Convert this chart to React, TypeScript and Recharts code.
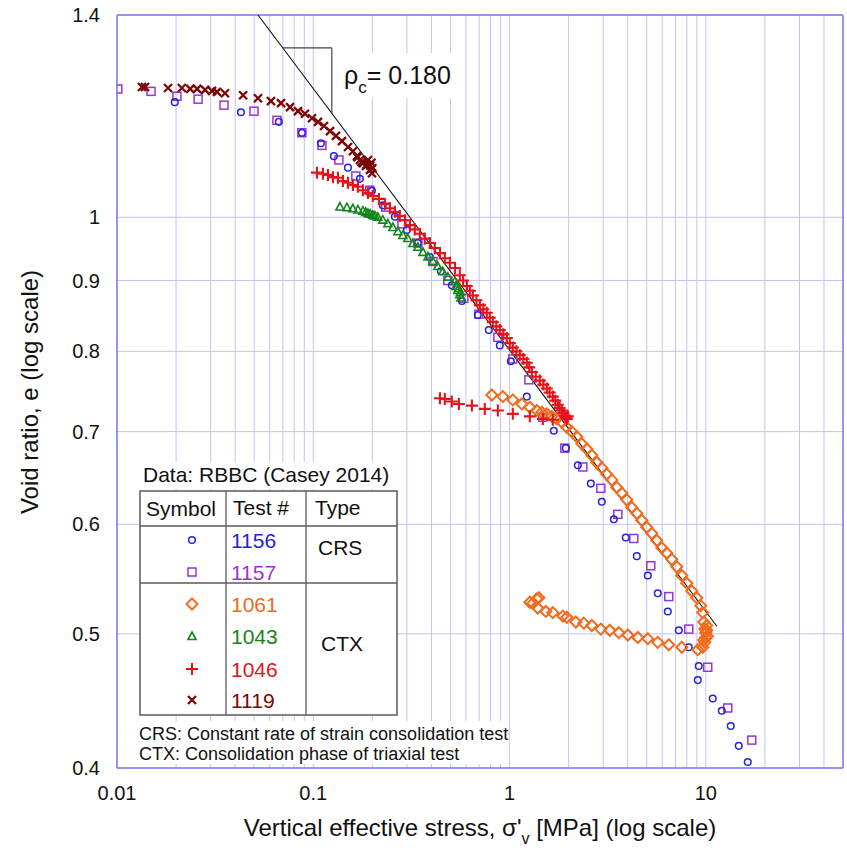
import {
  ScatterChart,
  Scatter,
  XAxis,
  YAxis,
  CartesianGrid,
  ReferenceLine,
} from "recharts";

// axis ticks
const xGridTicks = [
  0.01, 0.02, 0.03, 0.04, 0.05, 0.06, 0.07, 0.08, 0.09,
  0.1, 0.2, 0.3, 0.4, 0.5, 0.6, 0.7, 0.8, 0.9,
  1, 2, 3, 4, 5, 6, 7, 8, 9,
  10, 20, 30, 40, 50,
];
const xLabelTicks = [0.01, 0.1, 1, 10];
const xLabelText = ["0.01", "0.1", "1", "10"];
const yTicks = [0.4, 0.5, 0.6, 0.7, 0.8, 0.9, 1, 1.4];

// CRS 1156
const crs1156X = [0.0197, 0.0428, 0.0668, 0.0875, 0.1094, 0.1274, 0.1502, 0.1728, 0.199, 0.226, 0.2605, 0.3, 0.341, 0.393, 0.447, 0.508, 0.572, 0.689, 0.784, 0.892, 1.015, 1.225, 1.681, 1.935, 2.228, 2.595, 2.952, 3.398, 3.911, 4.45, 5.062, 5.692, 6.401, 7.282, 8.187, 9.206, 9.099, 10.85, 12.06, 13.4, 14.72, 16.36];
const crs1156E = [1.211, 1.191, 1.172, 1.151, 1.131, 1.107, 1.086, 1.066, 1.045, 1.02, 1.001, 0.979, 0.958, 0.936, 0.914, 0.893, 0.87, 0.85, 0.829, 0.808, 0.787, 0.742, 0.701, 0.681, 0.662, 0.642, 0.623, 0.605, 0.587, 0.569, 0.551, 0.535, 0.519, 0.503, 0.489, 0.474, 0.463, 0.449, 0.44, 0.429, 0.415, 0.404];

// CRS 1157
const crs1157X = [0.0101, 0.0149, 0.0202, 0.0259, 0.0351, 0.0499, 0.0653, 0.0875, 0.1107, 0.1351, 0.1648, 0.194, 0.234, 0.283, 0.341, 0.407, 0.485, 0.585, 0.698, 0.872, 1.039, 1.254, 1.478, 1.913, 2.363, 2.918, 3.562, 4.296, 5.243, 6.476, 8.187, 10.23, 12.94, 17.15];
const crs1157E = [1.238, 1.233, 1.223, 1.217, 1.205, 1.193, 1.175, 1.151, 1.127, 1.1, 1.071, 1.046, 1.017, 0.989, 0.958, 0.929, 0.9, 0.874, 0.851, 0.819, 0.79, 0.763, 0.717, 0.681, 0.66, 0.637, 0.61, 0.586, 0.56, 0.532, 0.504, 0.473, 0.442, 0.419];

// CTX 1061 (loading, then unloading)
const ctx1061LoadX = [0.8125, 0.924, 1.039, 1.155, 1.269, 1.377, 1.461, 1.549, 1.642, 1.741, 1.847, 1.958, 2.077, 2.202, 2.335, 2.476, 2.626, 2.784, 2.952, 3.13, 3.32, 3.52, 3.732, 3.957, 4.197, 4.45, 4.718, 5.003, 5.306, 5.626, 5.966, 6.326, 6.708, 7.113, 7.543, 7.998, 8.481, 8.993, 9.425, 9.649, 9.763, 9.878, 9.994, 9.994, 9.878, 9.649, 9.099, 10.1, 10.2, 9.76, 10.1];
const ctx1061LoadE = [0.744, 0.742, 0.738, 0.733, 0.729, 0.725, 0.723, 0.721, 0.718, 0.715, 0.711, 0.705, 0.7, 0.694, 0.686, 0.68, 0.673, 0.665, 0.659, 0.652, 0.646, 0.638, 0.632, 0.625, 0.617, 0.611, 0.604, 0.597, 0.591, 0.584, 0.577, 0.572, 0.566, 0.559, 0.551, 0.544, 0.537, 0.531, 0.524, 0.518, 0.51, 0.504, 0.501, 0.497, 0.493, 0.489, 0.487, 0.503, 0.498, 0.495, 0.507];
const ctx1061UnloadX = [7.543, 6.476, 5.692, 5.062, 4.503, 4.004, 3.603, 3.242, 2.918, 2.626, 2.39, 2.176, 1.958, 1.868, 1.661, 1.531, 1.393, 1.314, 1.269, 1.377, 1.41];
const ctx1061UnloadE = [0.489, 0.491, 0.493, 0.496, 0.497, 0.499, 0.501, 0.503, 0.504, 0.507, 0.509, 0.51, 0.514, 0.515, 0.518, 0.519, 0.522, 0.526, 0.527, 0.53, 0.531];

// CTX 1043
const ctx1043X = [0.1367, 0.1484, 0.1592, 0.1688, 0.179, 0.185, 0.19, 0.195, 0.201, 0.206, 0.213, 0.226, 0.24, 0.2545, 0.27, 0.286, 0.303, 0.322, 0.341, 0.362, 0.384, 0.407, 0.431, 0.457, 0.485, 0.527, 0.533, 0.545, 0.558, 0.565, 0.55, 0.562];
const ctx1043E = [1.018, 1.017, 1.015, 1.013, 1.011, 1.009, 1.007, 1.006, 1.004, 1.003, 1.001, 0.996, 0.99, 0.984, 0.977, 0.971, 0.966, 0.958, 0.952, 0.944, 0.937, 0.93, 0.922, 0.914, 0.906, 0.899, 0.892, 0.886, 0.88, 0.875, 0.889, 0.883];

// CTX 1046 (loading, then reload branch)
const ctx1046X = [0.1044, 0.112, 0.1188, 0.126, 0.1336, 0.1416, 0.1502, 0.1592, 0.1688, 0.179, 0.19, 0.201, 0.216, 0.232, 0.246, 0.2605, 0.276, 0.293, 0.311, 0.329, 0.349, 0.37, 0.393, 0.416, 0.442, 0.468, 0.4965, 0.527, 0.558, 0.58, 0.606, 0.628, 0.65, 0.678, 0.706, 0.735, 0.766, 0.793, 0.822, 0.856, 0.892, 0.93, 0.969, 1.003, 1.039, 1.083, 1.128, 1.176, 1.225, 1.26, 1.299, 1.36, 1.426, 1.487, 1.549, 1.6, 1.661, 1.71, 1.762, 1.8, 1.847, 1.88, 1.913, 1.958, 1.93, 1.98];
const ctx1046E = [1.077, 1.075, 1.073, 1.069, 1.068, 1.062, 1.059, 1.055, 1.052, 1.046, 1.041, 1.036, 1.031, 1.022, 1.015, 1.009, 1.002, 0.995, 0.987, 0.98, 0.973, 0.965, 0.958, 0.95, 0.942, 0.934, 0.927, 0.919, 0.908, 0.9, 0.892, 0.885, 0.878, 0.871, 0.864, 0.858, 0.853, 0.846, 0.84, 0.834, 0.829, 0.823, 0.818, 0.811, 0.805, 0.8, 0.795, 0.79, 0.785, 0.779, 0.773, 0.767, 0.762, 0.757, 0.752, 0.747, 0.742, 0.737, 0.732, 0.728, 0.725, 0.722, 0.719, 0.715, 0.717, 0.718];
const ctx1046ReloadX = [0.442, 0.468, 0.508, 0.552, 0.643, 0.748, 0.872, 1.039, 1.269, 1.478, 1.661];
const ctx1046ReloadE = [0.74, 0.739, 0.736, 0.733, 0.731, 0.727, 0.725, 0.721, 0.718, 0.715, 0.714];

// CTX 1119
const ctx1119X = [0.0134, 0.0139, 0.0182, 0.0214, 0.0236, 0.0256, 0.0281, 0.0305, 0.0323, 0.0355, 0.0439, 0.0523, 0.0609, 0.0685, 0.0761, 0.0836, 0.0907, 0.0985, 0.1057, 0.1134, 0.1217, 0.1305, 0.14, 0.1503, 0.1593, 0.167, 0.1729, 0.1791, 0.1856, 0.1945, 0.1991, 0.168, 0.176, 0.187, 0.195, 0.2, 0.198, 0.19];
const ctx1119E = [1.242, 1.242, 1.24, 1.24, 1.238, 1.238, 1.236, 1.234, 1.232, 1.229, 1.225, 1.219, 1.213, 1.209, 1.201, 1.193, 1.188, 1.179, 1.172, 1.164, 1.154, 1.145, 1.135, 1.124, 1.116, 1.107, 1.1, 1.094, 1.089, 1.082, 1.076, 1.105, 1.096, 1.091, 1.09, 1.085, 1.095, 1.1];

// compression line (rho_c) and slope triangle
const rhoLine = [{ x: 0.0523, y: 1.4 }, { x: 11.39, y: 0.5064 }];
const triTop = 1.3255;
const triLeft = 0.0701;
const triRight = 0.1243;
const triBottom = 1.187;

const zip = (xs: number[], es: number[]) => xs.map((x, i) => ({ x, e: es[i] }));

const FONT = "'Liberation Sans', Arial, sans-serif";
const AXIS = "#7b7bf2";
const GRID = "#c3c3f5";
const BLUE = "#2323dc";
const PURPLE = "#9a32d8";
const ORANGE = "#f26a1b";
const GREEN = "#15861a";
const RED = "#e5141b";
const DARKRED = "#7c0606";

const CircleMark = ({ cx, cy, color = BLUE }: any) => (
  <circle cx={cx} cy={cy} r={3.3} fill="none" stroke={color} strokeWidth={1.5} />
);
const SquareMark = ({ cx, cy, color = PURPLE }: any) => (
  <rect x={cx - 4} y={cy - 4} width={8} height={8} fill="none" stroke={color} strokeWidth={1.5} />
);
const DiamondMark = ({ cx, cy, color = ORANGE }: any) => (
  <path
    d={`M${cx},${cy - 5.5}L${cx + 5.5},${cy}L${cx},${cy + 5.5}L${cx - 5.5},${cy}Z`}
    fill="none"
    stroke={color}
    strokeWidth={2}
  />
);
const TriangleMark = ({ cx, cy, color = GREEN }: any) => (
  <path
    d={`M${cx},${cy - 4}L${cx + 4},${cy + 3.5}L${cx - 4},${cy + 3.5}Z`}
    fill="none"
    stroke={color}
    strokeWidth={1.6}
  />
);
const PlusMark = ({ cx, cy, color = RED }: any) => (
  <path d={`M${cx - 6},${cy}H${cx + 6}M${cx},${cy - 6}V${cy + 6}`} stroke={color} strokeWidth={2.1} />
);
const CrossMark = ({ cx, cy, color = DARKRED }: any) => (
  <path
    d={`M${cx - 4},${cy - 4}L${cx + 4},${cy + 4}M${cx + 4},${cy - 4}L${cx - 4},${cy + 4}`}
    stroke={color}
    strokeWidth={2.3}
  />
);

const XTick = (props: any) => {
  const { x, y, payload } = props;
  const i = xLabelTicks.indexOf(payload.value);
  if (i < 0) return <g />;
  return (
    <text x={x} y={y + 25} textAnchor="middle" dominantBaseline="central" fontSize={20} fontFamily={FONT} fill="#111">
      {xLabelText[i]}
    </text>
  );
};

const YTick = (props: any) => {
  const { x, y, payload } = props;
  return (
    <text x={x - 17} y={y} textAnchor="end" dominantBaseline="central" fontSize={20} fontFamily={FONT} fill="#111">
      {String(payload.value)}
    </text>
  );
};

const legendRows = [
  { id: "1156", color: BLUE, Mark: CircleMark, cy: 540 },
  { id: "1157", color: PURPLE, Mark: SquareMark, cy: 572 },
  { id: "1061", color: ORANGE, Mark: DiamondMark, cy: 604 },
  { id: "1043", color: GREEN, Mark: TriangleMark, cy: 636 },
  { id: "1046", color: RED, Mark: PlusMark, cy: 669 },
  { id: "1119", color: DARKRED, Mark: CrossMark, cy: 700 },
];

export default function App() {
  return (
    <div style={{ position: "absolute", left: 0, top: 0, width: 847, height: 850, background: "#fff" }}>
      <ScatterChart width={847} height={850} margin={{ top: 15, right: 4, bottom: 22, left: 0 }}>
        <CartesianGrid stroke={GRID} strokeWidth={1} />
        <XAxis
          type="number"
          dataKey="x"
          scale="log"
          domain={[0.01, 50]}
          ticks={xGridTicks}
          interval={0}
          tick={<XTick />}
          tickSize={0}
          tickMargin={0}
          tickLine={false}
          axisLine={{ stroke: AXIS, strokeWidth: 1.5 }}
          height={60}
          allowDataOverflow
        />
        <YAxis
          type="number"
          dataKey="e"
          scale="log"
          domain={[0.4, 1.4]}
          ticks={yTicks}
          interval={0}
          tick={<YTick />}
          tickSize={0}
          tickMargin={0}
          tickLine={false}
          axisLine={{ stroke: AXIS, strokeWidth: 1.5 }}
          width={117}
          allowDataOverflow
        />
        <ReferenceLine y={1.4} stroke={AXIS} strokeWidth={1.5} />
        <ReferenceLine x={50} stroke={AXIS} strokeWidth={1.5} />

        <Scatter data={zip(crs1157X, crs1157E)} shape={(p: any) => <SquareMark cx={p.cx} cy={p.cy} />} isAnimationActive={false} />
        <Scatter data={zip(crs1156X, crs1156E)} shape={(p: any) => <CircleMark cx={p.cx} cy={p.cy} />} isAnimationActive={false} />
        <Scatter
          data={[...zip(ctx1061LoadX, ctx1061LoadE), ...zip(ctx1061UnloadX, ctx1061UnloadE)]}
          shape={(p: any) => <DiamondMark cx={p.cx} cy={p.cy} />}
          isAnimationActive={false}
        />
        <Scatter data={zip(ctx1043X, ctx1043E)} shape={(p: any) => <TriangleMark cx={p.cx} cy={p.cy} />} isAnimationActive={false} />
        <Scatter
          data={[...zip(ctx1046X, ctx1046E), ...zip(ctx1046ReloadX, ctx1046ReloadE)]}
          shape={(p: any) => <PlusMark cx={p.cx} cy={p.cy} />}
          isAnimationActive={false}
        />
        <Scatter data={zip(ctx1119X, ctx1119E)} shape={(p: any) => <CrossMark cx={p.cx} cy={p.cy} />} isAnimationActive={false} />

        <ReferenceLine segment={rhoLine} stroke="#111" strokeWidth={1.1} />
        <ReferenceLine segment={[{ x: triLeft, y: triTop }, { x: triRight, y: triTop }]} stroke="#444" strokeWidth={1.2} />
        <ReferenceLine segment={[{ x: triRight, y: triTop }, { x: triRight, y: triBottom }]} stroke="#444" strokeWidth={1.2} />
      </ScatterChart>

      {/* text overlay: labels, annotation, legend table */}
      <svg
        width={847}
        height={850}
        style={{ position: "absolute", left: 0, top: 0, pointerEvents: "none" }}
        fontFamily={FONT}
      >
        <rect x={337} y={53} width={121} height={45} fill="#fff" />
        <text x={344} y={84} fontSize={25} fill="#111">
          ρ<tspan fontSize={17} dy={9}>c</tspan>
          <tspan dy={-9}>= 0.180</tspan>
        </text>

        <text
          transform="translate(29,392) rotate(-90)"
          textAnchor="middle"
          dominantBaseline="central"
          fontSize={24}
          fill="#111"
        >
          Void ratio, e (log scale)
        </text>
        <text x={480} y={836} textAnchor="middle" fontSize={24} fill="#111">
          Vertical effective stress, σ'<tspan fontSize={16} dy={8}>v</tspan>
          <tspan dy={-8}> [MPa] (log scale)</tspan>
        </text>

        {/* legend */}
        <rect x={140} y={462} width={257} height={27} fill="#fff" />
        <text x={143} y={482} fontSize={21} fill="#111">Data: RBBC (Casey 2014)</text>

        <rect x={140} y={491} width={257} height={224} fill="#fff" stroke="#5a5a5a" strokeWidth={1.5} />
        <line x1={140} y1={526} x2={397} y2={526} stroke="#5a5a5a" strokeWidth={1.3} />
        <line x1={140} y1={583} x2={397} y2={583} stroke="#5a5a5a" strokeWidth={1.3} />
        <line x1={226} y1={491} x2={226} y2={715} stroke="#5a5a5a" strokeWidth={1.3} />
        <line x1={306} y1={491} x2={306} y2={715} stroke="#5a5a5a" strokeWidth={1.3} />
        <text x={146} y={516} fontSize={21} fill="#111">Symbol</text>
        <text x={233} y={515} fontSize={21} fill="#111">Test #</text>
        <text x={315} y={515} fontSize={21} fill="#111">Type</text>
        <text x={318} y={555} fontSize={21} fill="#111">CRS</text>
        <text x={321} y={651} fontSize={21} fill="#111">CTX</text>
        {legendRows.map(({ id, color, Mark, cy }) => (
          <g key={id}>
            <Mark cx={192} cy={cy} color={color} />
            <text x={231} y={cy + 7.5} fontSize={21} fill={color}>{id}</text>
          </g>
        ))}

        <rect x={137} y={721} width={372} height={43} fill="#fff" />
        <text x={139} y={740} fontSize={18} fill="#111">CRS: Constant rate of strain consolidation test</text>
        <text x={139} y={760} fontSize={18} fill="#111">CTX: Consolidation phase of triaxial test</text>
      </svg>
    </div>
  );
}
